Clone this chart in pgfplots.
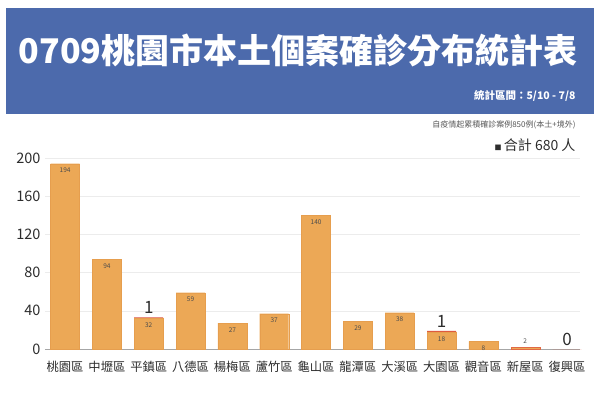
\documentclass[border=0pt]{standalone}
\usepackage{pgfplots}
\pgfplotsset{compat=1.18}
\usepackage{fontspec}
\setmainfont{Noto Sans CJK TC}
\definecolor{barc}{RGB}{236,168,86}
\definecolor{bare}{RGB}{230,158,78}
\definecolor{hdr}{RGB}{76,106,172}
\definecolor{txt}{RGB}{45,45,45}
\definecolor{redtop}{RGB}{220,80,60}
\begin{document}
\begin{tikzpicture}[x=1pt,y=1pt]
\useasboundingbox (0,0) rectangle (600,392);
\fill[hdr] (6,278) rectangle (594,384);
\node[text=white,font=\fontsize{34}{36}\selectfont\bfseries] at (298,342) {0709桃園市本土個案確診分布統計表};
\node[anchor=east,text=white,font=\fontsize{10.5}{12}\selectfont\bfseries] at (579,296) {統計區間：5/10 - 7/8};
\node[anchor=east,text=txt!80,font=\fontsize{8}{9}\selectfont] at (579,267) {自疫情起累積確診案例850例(本土+境外)};
\node[anchor=east,text=txt,font=\fontsize{14}{16}\selectfont] at (579,247) {{\fontsize{7}{8}\selectfont■}\,合計 680 人};
\begin{axis}[
  at={(45pt,43pt)}, anchor=south west,
  scale only axis, width=535pt, height=191pt,
  xmin=-0.48, xmax=12.31, ymin=0, ymax=200,
  ytick={0,40,...,200},
  xtick={0,...,12},
  xticklabels={桃園區,中壢區,平鎮區,八德區,楊梅區,蘆竹區,龜山區,龍潭區,大溪區,大園區,觀音區,新屋區,復興區},
  axis x line*=bottom, axis y line*=left,
  x axis line style={draw=gray!70, line width=0.8pt},
  y axis line style={draw=none},
  ymajorgrids, grid style={gray!15, line width=0.6pt},
  tick style={draw=none},
  tick label style={text=txt},
  yticklabel style={font=\fontsize{14.5}{16}\selectfont, xshift=-1pt},
  xticklabel style={font=\fontsize{12.3}{14}\selectfont, yshift=-9pt, inner xsep=0pt},
  /pgf/number format/assume math mode=true,
  clip=false,
]
\addplot[ybar, bar width=29pt, bar shift=0pt, fill=redtop, draw=none,
  point meta=explicit symbolic,
  nodes near coords, every node near coord/.append style={anchor=south, font=\fontsize{17}{18}\selectfont, text=txt, yshift=0pt}]
  coordinates {(2,33) [1] (9,19) [1] (12,0) [0]};
\addplot[ybar, bar width=29pt, bar shift=0pt, fill=barc, draw=bare, line width=0.3pt,
  nodes near coords, every node near coord/.append style={anchor=north, font=\fontsize{6.5}{7}\selectfont, text=txt!85, yshift=-1pt}]
  coordinates {(0,194) (1,94) (2,32) (3,59) (4,27) (5,37) (6,140) (7,29) (8,38) (9,18) (10,8)};
\addplot[ybar, bar width=29pt, bar shift=0pt, fill=barc, draw=redtop!70!barc, line width=0.3pt,
  nodes near coords, every node near coord/.append style={anchor=south, font=\fontsize{6.5}{7}\selectfont, text=txt!85, yshift=0pt}]
  coordinates {(11,2)};
\end{axis}
\end{tikzpicture}
\end{document}
